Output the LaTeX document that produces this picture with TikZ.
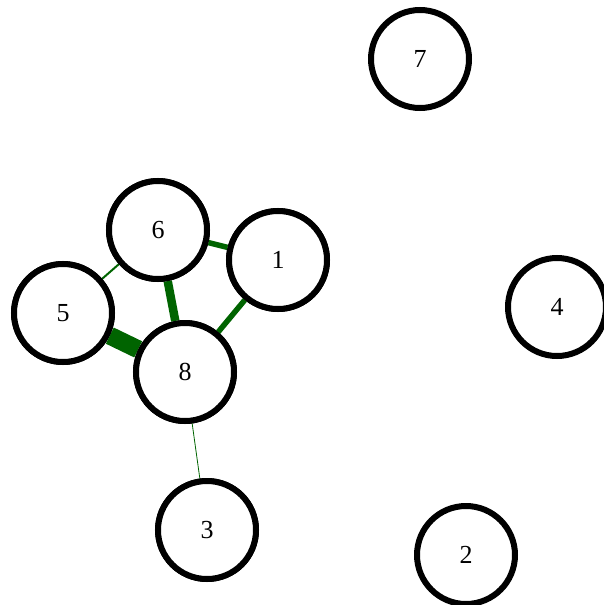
\documentclass[tikz,border=0pt]{standalone}
\usepackage{fontspec}
\setmainfont{Liberation Serif}
\usepackage{xcolor}
\usepackage{tikz}

\definecolor{edgegreen}{RGB}{0,100,0}

\begin{document}
\begin{tikzpicture}[x=1pt, y=-1pt,
    vertex/.style={circle, draw=black, line width=6pt, fill=white,
        minimum size=98pt, inner sep=0pt, font=\fontsize{26pt}{26pt}\selectfont},
    link/.style={draw=edgegreen}]
    \useasboundingbox (0,0) rectangle (603,605);
    % nodes
    \node[vertex] (n1) at (278,260) {1};
    \node[vertex] (n2) at (466,555) {2};
    \node[vertex] (n3) at (207,530) {3};
    \node[vertex] (n4) at (557,307) {4};
    \node[vertex] (n5) at (63,313) {5};
    \node[vertex] (n6) at (158,230) {6};
    \node[vertex] (n7) at (420,59) {7};
    \node[vertex] (n8) at (185,372) {8};
    % edges
    \path[link, line width=5.5pt] (n6) -- (n1);
    \path[link, line width=5.5pt] (n8) -- (n1);
    \path[link, line width=8.5pt] (n6) -- (n8);
    \path[link, line width=2pt] (n5) -- (n6);
    \path[link, line width=18pt] (n5) -- (n8);
    \path[link, line width=0.8pt] (n8) -- (n3);
    % redraw nodes over edge ends
    \foreach \n/\x/\y in {1/278/260, 3/207/530, 5/63/313, 6/158/230, 8/185/372}
        \node[vertex] at (\x,\y) {\n};
\end{tikzpicture}
\end{document}
